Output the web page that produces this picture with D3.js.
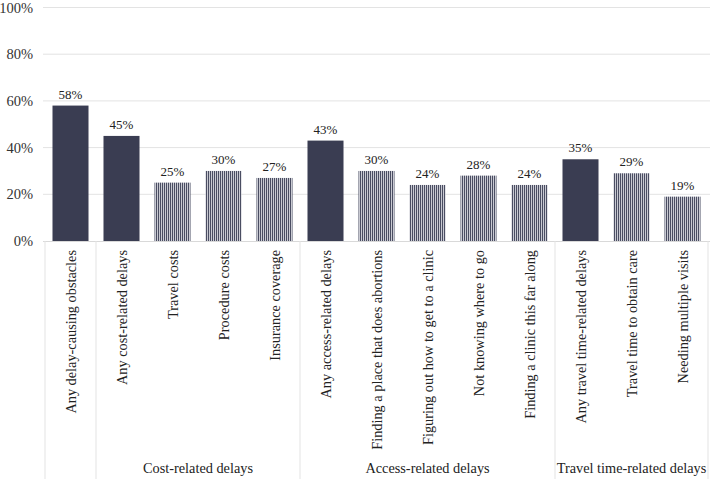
<!DOCTYPE html>
<html>
<head>
<meta charset="utf-8">
<script src="https://cdn.jsdelivr.net/npm/d3@7"></script>
<style>
  html, body { margin: 0; padding: 0; background: #fff; }
  svg { display: block; }
  svg text { font-family: "Liberation Serif", "Times New Roman", serif; }
</style>
</head>
<body>
<svg id="chart" width="712" height="479"></svg>
<script>
const categories = [
  "Any delay-causing obstacles",
  "Any cost-related delays",
  "Travel costs",
  "Procedure costs",
  "Insurance coverage",
  "Any access-related delays",
  "Finding a place that does abortions",
  "Figuring out how to get to a clinic",
  "Not knowing where to go",
  "Finding a clinic this far along",
  "Any travel time-related delays",
  "Travel time to obtain care",
  "Needing multiple visits"
];
const values = [58, 45, 25, 30, 27, 43, 30, 24, 28, 24, 35, 29, 19];
const isSummary = [true, true, false, false, false, true, false, false, false, false, true, false, false];
const yTicks = [0, 20, 40, 60, 80, 100];
const groupNames = ["Cost-related delays", "Access-related delays", "Travel time-related delays"];
const groupStart = [1, 5, 10];
const groupEnd = [4, 9, 12];

(function () {
const svg = d3.select("#chart");
const mLeft = 45, mRight = 708, mTop = 7.5, mBottom = 241;

const defs = svg.append("defs");
const pat = defs.append("pattern")
  .attr("id", "stripes")
  .attr("patternUnits", "userSpaceOnUse")
  .attr("width", 2).attr("height", 4);
pat.append("rect").attr("width", 2).attr("height", 4).attr("fill", "#c9cad2");
pat.append("rect").attr("width", 1).attr("height", 4).attr("fill", "#4a4d62");

const x = d3.scaleBand()
  .domain(d3.range(categories.length))
  .range([mLeft, mRight])
  .paddingInner(0.294)
  .paddingOuter(0.147);
const y = d3.scaleLinear().domain([0, 100]).range([mBottom, mTop]);
const step = x.step();
const gap = step * x.paddingInner();

// gridlines
svg.append("g").selectAll("line").data(yTicks.filter(t => t > 0)).join("line")
  .attr("x1", 43).attr("x2", mRight + 2)
  .attr("y1", d => y(d)).attr("y2", d => y(d))
  .attr("stroke", "#e3e3e3").attr("stroke-width", 1);

// y axis
const yAxis = d3.axisLeft(y).tickValues(yTicks).tickFormat(d => d + "%").tickSize(0).tickPadding(10);
const yg = svg.append("g").attr("transform", `translate(${mLeft - 2},0)`).call(yAxis);
yg.attr("font-family", null).attr("font-size", null);
yg.select(".domain").remove();
yg.selectAll("text").attr("font-size", 14.5).attr("fill", "#333");

// bars
svg.append("g").selectAll("rect").data(values).join("rect")
  .attr("x", (d, i) => x(i))
  .attr("width", x.bandwidth())
  .attr("y", d => y(d))
  .attr("height", d => y(0) - y(d))
  .attr("fill", (d, i) => isSummary[i] ? "#3a3d52" : "url(#stripes)");

// value labels
svg.append("g").selectAll("text").data(values).join("text")
  .attr("x", (d, i) => x(i) + x.bandwidth() / 2)
  .attr("y", d => y(d) - 7)
  .attr("text-anchor", "middle")
  .attr("font-size", 13)
  .attr("fill", "#222")
  .text(d => d + "%");

// baseline
svg.append("line")
  .attr("x1", 43).attr("x2", mRight + 2)
  .attr("y1", mBottom + 0.5).attr("y2", mBottom + 0.5)
  .attr("stroke", "#d9d9d9");

// separators
const sepIdx = [0, 1, 5, 10, 13];
const sepX = d => d < categories.length ? x(d) - gap / 2 : x(d - 1) + x.bandwidth() + gap / 2;
svg.append("g").selectAll("line").data(sepIdx).join("line")
  .attr("x1", sepX).attr("x2", sepX)
  .attr("y1", mBottom).attr("y2", 479)
  .attr("stroke", "#e3e3e3");

// category labels
svg.append("g").selectAll("text").data(categories).join("text")
  .attr("transform", (d, i) => `translate(${x(i) + x.bandwidth() / 2 + 5},${mBottom + 9}) rotate(-90)`)
  .attr("text-anchor", "end")
  .attr("font-size", 14.3)
  .attr("fill", "#222")
  .text(d => d);

// group labels
svg.append("g").selectAll("text").data(groupNames).join("text")
  .attr("x", (d, i) => (x(groupStart[i]) - gap / 2 + x(groupEnd[i]) + x.bandwidth() + gap / 2) / 2)
  .attr("y", 473)
  .attr("text-anchor", "middle")
  .attr("font-size", 14.3)
  .attr("fill", "#222")
  .text(d => d);
})();
</script>
</body>
</html>
